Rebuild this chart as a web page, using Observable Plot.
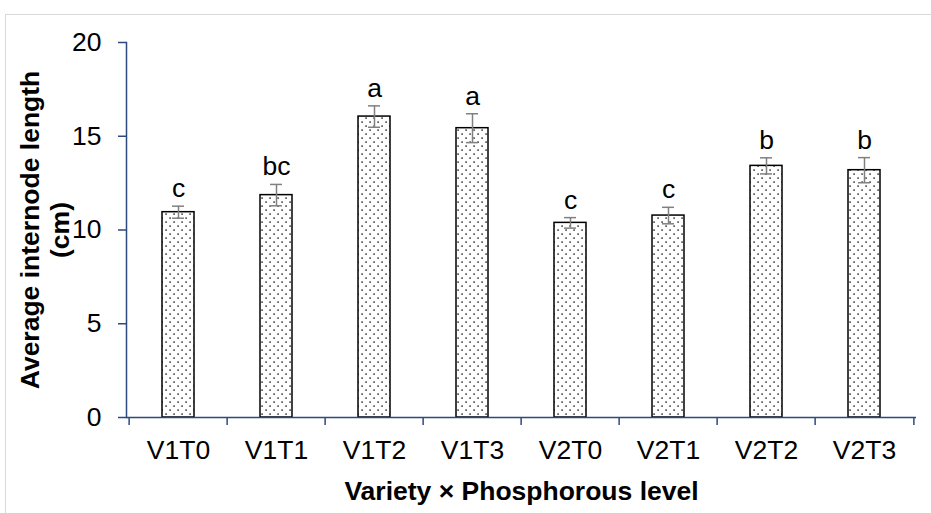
<!DOCTYPE html>
<html>
<head>
<meta charset="utf-8">
<script src="https://cdn.jsdelivr.net/npm/d3@7"></script>
<script src="https://cdn.jsdelivr.net/npm/@observablehq/plot@0.6"></script>
<style>
  html, body { margin: 0; padding: 0; background: #fff; }
  #wrap { position: relative; width: 931px; height: 513px; overflow: hidden; }
  #border { position: absolute; left: 5px; top: 14px; width: 2000px; height: 2000px;
            border-left: 1.5px solid #d9d9d9; border-top: 1.5px solid #d9d9d9; }
  #chart { position: absolute; left: 0; top: 0; }
</style>
</head>
<body>
<svg width="0" height="0" style="position:absolute">
  <defs>
    <pattern id="dots" width="8" height="8" patternUnits="userSpaceOnUse">
      <rect width="8" height="8" fill="#ffffff"></rect>
      <rect x="1.3" y="1.3" width="1.6" height="1.6" fill="#444"></rect>
      <rect x="5.3" y="5.3" width="1.6" height="1.6" fill="#444"></rect>
    </pattern>
  </defs>
</svg>
<div id="wrap"><div id="border"></div><div id="chart"></div></div>
<script>
const categories = ["V1T0", "V1T1", "V1T2", "V1T3", "V2T0", "V2T1", "V2T2", "V2T3"];
const means = [10.95, 11.86, 16.05, 15.43, 10.38, 10.77, 13.42, 13.19];
const errors = [0.32, 0.57, 0.57, 0.77, 0.28, 0.44, 0.43, 0.67];
const letters = ["c", "bc", "a", "a", "c", "c", "b", "b"];
const yTicks = [0, 5, 10, 15, 20];

const data = categories.map((c, i) => ({cat: c, mean: means[i], se: errors[i], letter: letters[i]}));

const W = 931, H = 513, ML = 126, MR = 15, MT = 42, MB = 96;
const step = (W - ML - MR) / categories.length;
const axisColor = "#2E4A7D";
const font = "'Liberation Sans', Arial, sans-serif";
const FS = 26.5;

const plot = Plot.plot({
  width: W, height: H,
  marginLeft: ML, marginRight: MR, marginTop: MT, marginBottom: MB,
  style: {fontFamily: font, fontSize: FS + "px", background: "transparent", color: "#000", overflow: "visible"},
  x: {domain: categories, paddingInner: 0.675, paddingOuter: 0.3375, label: null},
  y: {domain: [0, 20], label: null},
  marks: [
    Plot.barY(data, {x: "cat", y: "mean", fill: "url(#dots)", stroke: "#000", strokeWidth: 1.5}),
    Plot.ruleX(data, {x: "cat", y1: d => d.mean - d.se, y2: d => d.mean + d.se, stroke: "#808080", strokeWidth: 1.5}),
    Plot.tickY(data, {x: "cat", y: d => d.mean + d.se, stroke: "#808080", strokeWidth: 1.5, insetLeft: 10, insetRight: 10}),
    Plot.tickY(data, {x: "cat", y: d => d.mean - d.se, stroke: "#808080", strokeWidth: 1.5, insetLeft: 10, insetRight: 10}),
    Plot.text(data, {x: "cat", y: d => d.mean + d.se, text: "letter", lineAnchor: "bottom", dy: -9, fontSize: FS, fill: "#000"}),
    Plot.frame({anchor: "left", stroke: axisColor, strokeWidth: 1.5}),
    Plot.ruleY([0], {stroke: axisColor, strokeWidth: 1.5}),
    Plot.ruleX(categories, {x: d => d, y1: 0, y2: 0, insetBottom: -8, dx: -step / 2, stroke: axisColor, strokeWidth: 1.5}),
    Plot.ruleX(categories.slice(-1), {x: d => d, y1: 0, y2: 0, insetBottom: -8, dx: step / 2, stroke: axisColor, strokeWidth: 1.5}),
    Plot.axisY({ticks: yTicks, tickSize: 8, tickPadding: 17, stroke: axisColor, strokeWidth: 1.5, fill: "#000", fontSize: FS, label: null}),
    Plot.axisX({tickSize: 0, tickPadding: 23, fill: "#000", fontSize: FS, label: null}),
    Plot.text(["Variety × Phosphorous level"], {frameAnchor: "bottom", dy: 74, lineAnchor: "middle", textAnchor: "middle", fontWeight: "bold", fontSize: FS, fill: "#000"}),
    Plot.text(["Average internode length\n(cm)"], {frameAnchor: "left", dx: -(ML - 43.5), rotate: -90, textAnchor: "middle", lineAnchor: "middle", lineHeight: 1.15, fontWeight: "bold", fontSize: FS, fill: "#000"})
  ]
});
document.getElementById("chart").appendChild(plot);
</script>
</body>
</html>
